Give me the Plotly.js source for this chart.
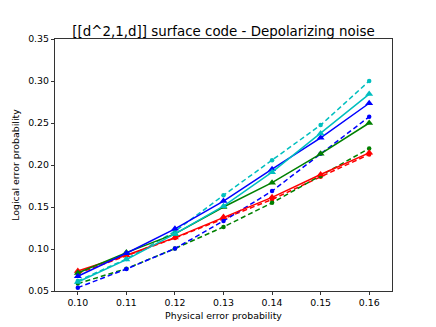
<!DOCTYPE html>
<html>
<head>
<meta charset="utf-8">
<script src="https://cdn.plot.ly/plotly-3.0.1.min.js"></script>
<style>
  html, body { margin: 0; padding: 0; background: #fff; }
  #chart { width: 436px; height: 327px; }
</style>
</head>
<body>
<div id="chart"></div>
<script>
  // physical error rates
  var p = [0.10, 0.11, 0.12, 0.13, 0.14, 0.15, 0.16];

  // solid lines, triangle markers
  var redSolid   = [0.0738, 0.0925, 0.1136, 0.1380, 0.1615, 0.1887, 0.2145];
  var greenSolid = [0.0714, 0.0957, 0.1180, 0.1500, 0.1790, 0.2133, 0.2500];
  var blueSolid  = [0.0675, 0.0950, 0.1240, 0.1570, 0.1950, 0.2324, 0.2735];
  var cyanSolid  = [0.0607, 0.0874, 0.1180, 0.1510, 0.1915, 0.2376, 0.2844];

  // dashed lines, dot markers
  var redDash    = [0.0710, 0.0920, 0.1130, 0.1360, 0.1590, 0.1860, 0.2126];
  var greenDash  = [0.0588, 0.0766, 0.1005, 0.1263, 0.1550, 0.1870, 0.2197];
  var blueDash   = [0.0540, 0.0762, 0.1005, 0.1334, 0.1690, 0.2135, 0.2574];
  var cyanDash   = [0.0620, 0.0880, 0.1210, 0.1640, 0.2058, 0.2475, 0.3000];

  var colors = {r: "#ff0000", g: "#008000", b: "#0000ff", c: "#00bfbf"};

  function solid(y, col){
    return {x: p, y: y, mode: "lines+markers", line: {color: col, width: 1.5},
            marker: {symbol: "triangle-up", size: 7, color: col}};
  }
  function dashed(y, col){
    return {x: p, y: y, mode: "lines+markers", line: {color: col, width: 1.5, dash: "5px,3px"},
            marker: {symbol: "circle", size: 4.5, color: col}};
  }

  const chartdata = [
    dashed(redDash, colors.r),
    dashed(greenDash, colors.g),
    dashed(blueDash, colors.b),
    dashed(cyanDash, colors.c),
    solid(redSolid, colors.r),
    solid(greenSolid, colors.g),
    solid(blueSolid, colors.b),
    solid(cyanSolid, colors.c)
  ];

  var tickFont = {family: "DejaVu Sans", size: 9.4, color: "#000"};

  const layout = {
    width: 436, height: 327,
    margin: {l: 55, r: 44, t: 39, b: 36},
    paper_bgcolor: "#fff", plot_bgcolor: "#fff",
    showlegend: false,
    font: {family: "DejaVu Sans", size: 9.4, color: "#000"},
    title: {text: "[[d^2,1,d]] surface code - Depolarizing noise",
            font: {family: "DejaVu Sans", size: 13.4, color: "#000"},
            x: 0.5, xanchor: "center", xref: "paper",
            y: 0.905, yanchor: "middle", yref: "container"},
    xaxis: {
      range: [0.0953, 0.1647],
      tickvals: p,
      ticktext: ["0.10", "0.11", "0.12", "0.13", "0.14", "0.15", "0.16"],
      ticks: "outside", ticklen: 3.3, tickwidth: 0.8, tickcolor: "#000",
      showgrid: false, zeroline: false,
      showline: true, mirror: true, linecolor: "#000", linewidth: 0.8,
      tickfont: tickFont,
      title: {text: "Physical error probability", font: tickFont, standoff: 4}
    },
    yaxis: {
      range: [0.05, 0.35],
      tickvals: [0.05, 0.10, 0.15, 0.20, 0.25, 0.30, 0.35],
      ticktext: ["0.05", "0.10", "0.15", "0.20", "0.25", "0.30", "0.35"],
      ticks: "outside", ticklen: 3.3, tickwidth: 0.8, tickcolor: "#000",
      showgrid: false, zeroline: false,
      showline: true, mirror: true, linecolor: "#000", linewidth: 0.8,
      tickfont: tickFont,
      title: {text: "Logical error probability", font: tickFont, standoff: 6}
    }
  };

  const config = {displayModeBar: false, staticPlot: true};

  Plotly.newPlot("chart", chartdata, layout, config);
</script>
</body>
</html>
